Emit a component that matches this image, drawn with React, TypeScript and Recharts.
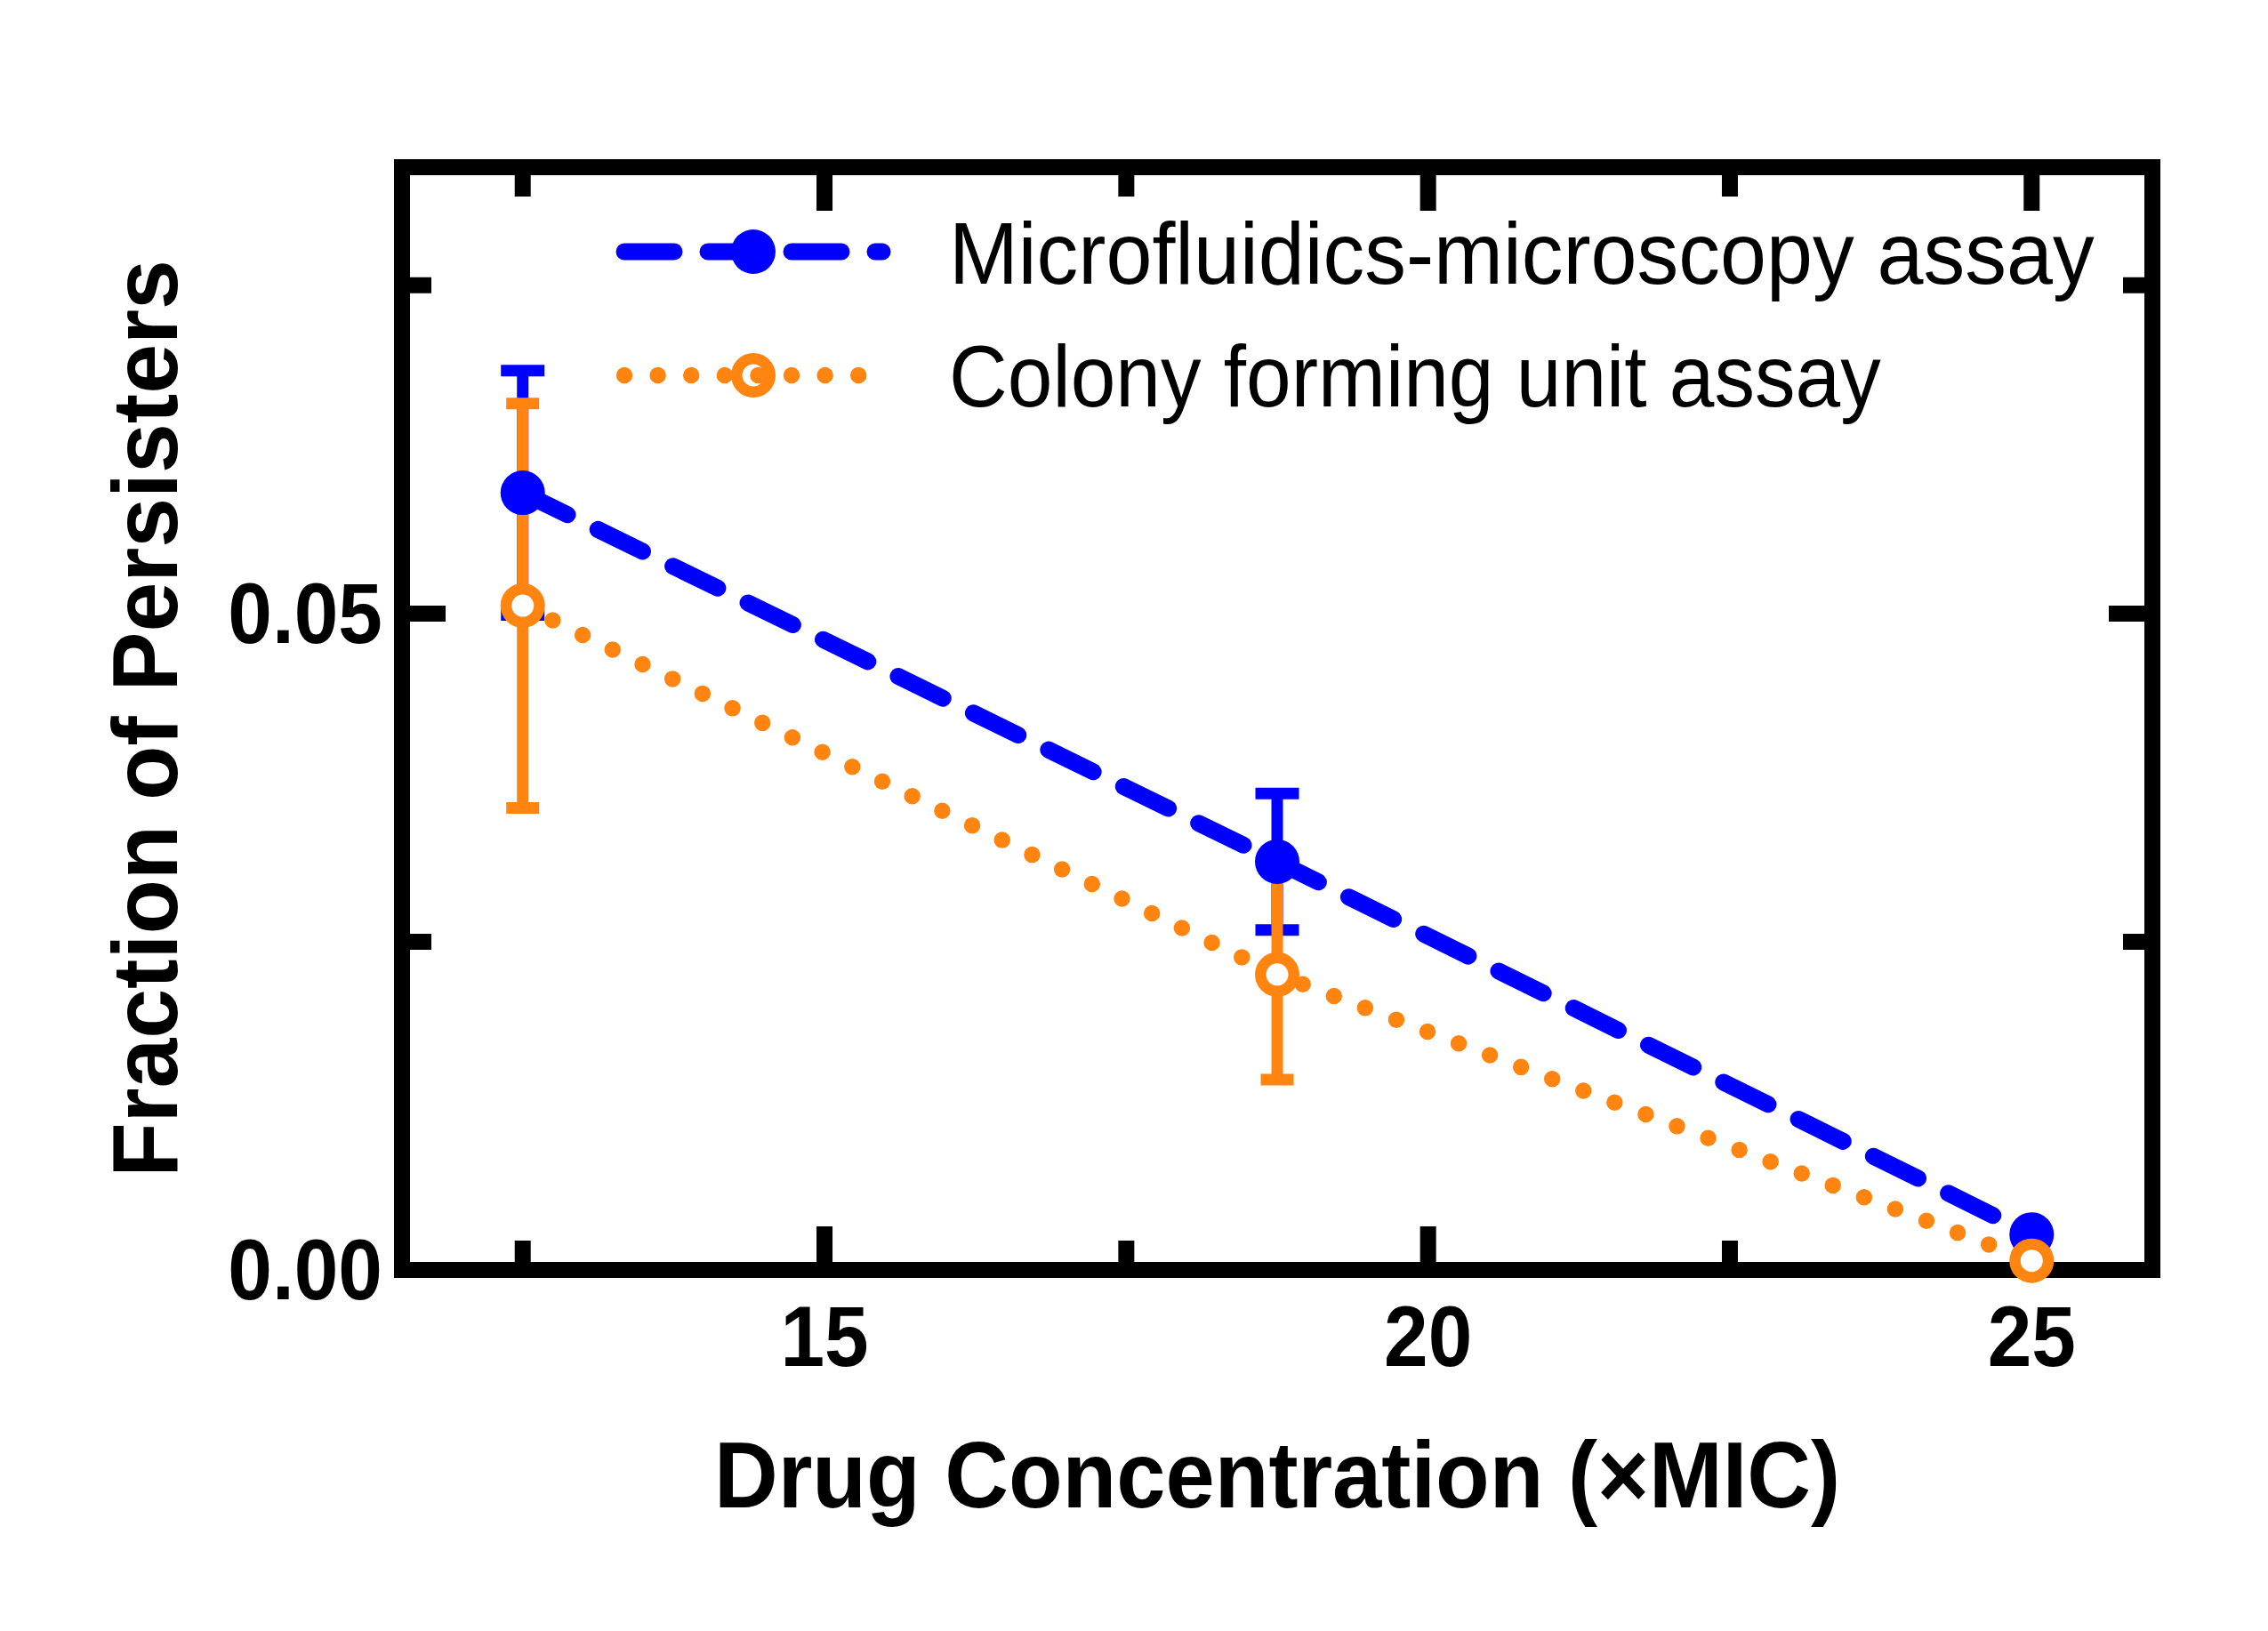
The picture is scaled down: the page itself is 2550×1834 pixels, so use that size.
import { LineChart, Line, XAxis, YAxis, ErrorBar, ReferenceArea, ReferenceLine, Legend } from 'recharts';

const concentrations = [12.5, 18.75, 25];
const microscopy = [0.0592, 0.0311, 0.0027];
const microscopyErr = [0.0093, 0.0052, 0];
const cfu = [0.0506, 0.0225, 0.0007];
const cfuErr = [0.0154, 0.008, 0];

const xTicks = [12.5, 15, 17.5, 20, 22.5, 25];
const xLabeled = [15, 20, 25];
const yTicks = [0, 0.025, 0.05, 0.075];
const yLabeled = [0, 0.05];

const seriesNames = ['Microfluidics-microscopy assay', 'Colony forming unit assay'];

const data = concentrations.map((c, i) => ({
  conc: c,
  micro: microscopy[i],
  microErr: microscopyErr[i],
  cfu: cfu[i],
  cfuErr: cfuErr[i],
}));

const BLUE = '#0000ff';
const ORANGE = '#ff8410';
const FONT = '"Liberation Sans", Arial, sans-serif';

const W = 2550;
const H = 1834;
// axis boxes are 1px, so plot area = 452..2420 x 188..1428
const margin = { top: 188, right: 130, bottom: 405, left: 451 };
const plotTop = margin.top;
const plotBottom = H - margin.bottom - 1;
const plotLeft = margin.left + 1;
const plotRight = W - margin.right;

// inward tick marks on all four sides, drawn under the series
function xTickMarks(major: boolean) {
  const len = major ? 49 : 33;
  return (p: any) => (
    <g>
      <line x1={p.x1} x2={p.x1} y1={plotBottom} y2={plotBottom - len} stroke="#000" strokeWidth={18} />
      <line x1={p.x1} x2={p.x1} y1={plotTop} y2={plotTop + len} stroke="#000" strokeWidth={18} />
    </g>
  );
}

function yTickMarks(major: boolean) {
  const len = major ? 49 : 33;
  return (p: any) => (
    <g>
      <line x1={plotLeft} x2={plotLeft + len} y1={p.y1} y2={p.y1} stroke="#000" strokeWidth={18} />
      <line x1={plotRight} x2={plotRight - len} y1={p.y1} y2={p.y1} stroke="#000" strokeWidth={18} />
    </g>
  );
}

function XTick(props: any) {
  const { x, payload } = props;
  const v = payload.value;
  if (!xLabeled.includes(v)) return null;
  return (
    <text
      transform={`translate(${x},${plotBottom + 108}) scale(0.92,1)`}
      textAnchor="middle"
      fontFamily={FONT}
      fontWeight="bold"
      fontSize={97}
      fill="#000"
    >
      {v}
    </text>
  );
}

function YTick(props: any) {
  const { y, payload } = props;
  const v = payload.value;
  if (!yLabeled.includes(v)) return null;
  return (
    <text
      transform={`translate(${plotLeft - 22},${y + 33}) scale(0.92,1)`}
      textAnchor="end"
      fontFamily={FONT}
      fontWeight="bold"
      fontSize={97}
      fill="#000"
    >
      {v.toFixed(2)}
    </text>
  );
}

function XTitle() {
  const cx = (plotLeft + plotRight) / 2;
  return (
    <text
      transform={`translate(${cx},1695) scale(0.937,1)`}
      textAnchor="middle"
      fontFamily={FONT}
      fontWeight="bold"
      fontSize={106}
      fill="#000"
    >
      Drug Concentration (×MIC)
    </text>
  );
}

function YTitle() {
  const cy = (plotTop + plotBottom) / 2;
  return (
    <text
      transform={`translate(199,${cy}) rotate(-90) scale(0.965,1)`}
      textAnchor="middle"
      fontFamily={FONT}
      fontWeight="bold"
      fontSize={104}
      fill="#000"
    >
      Fraction of Persisters
    </text>
  );
}

function BlueDot(props: any) {
  const { cx, cy } = props;
  if (cx == null || cy == null) return null;
  return <circle cx={cx} cy={cy} r={25} fill={BLUE} />;
}

function OrangeDot(props: any) {
  const { cx, cy } = props;
  if (cx == null || cy == null) return null;
  return <circle cx={cx} cy={cy} r={18.75} fill="#fff" stroke={ORANGE} strokeWidth={12.5} />;
}

function LegendBox() {
  return (
    <svg width={W} height={H} style={{ display: 'block', overflow: 'visible' }}>
      <line x1={702} x2={992} y1={283} y2={283} stroke={BLUE} strokeWidth={19} strokeDasharray="56 38" strokeLinecap="round" />
      <circle cx={847} cy={283} r={25} fill={BLUE} />
      <text transform="translate(1067,319) scale(0.944,1)" fontFamily={FONT} fontSize={99} fill="#000">
        {seriesNames[0]}
      </text>
      <circle cx={847} cy={422} r={18.75} fill="#fff" stroke={ORANGE} strokeWidth={12.5} />
      <line x1={702} x2={966} y1={422} y2={422} stroke={ORANGE} strokeWidth={18.5} strokeDasharray="0 37.6" strokeLinecap="round" />
      <text transform="translate(1067,457) scale(0.92,1)" fontFamily={FONT} fontSize={99} fill="#000">
        {seriesNames[1]}
      </text>
      <XTitle />
      <YTitle />
    </svg>
  );
}

export default function App() {
  return (
    <div style={{ position: 'absolute', left: 0, top: 0, background: '#fff' }}>
      <LineChart width={W} height={H} data={data} margin={margin}>
        <ReferenceArea x1={11.5} x2={26} y1={0} y2={0.084} fill="none" stroke="#000" strokeWidth={18} ifOverflow="visible" />
        {xTicks.map((t) => (
          <ReferenceLine key={`xt${t}`} x={t} stroke="none" ifOverflow="visible" shape={xTickMarks(xLabeled.includes(t))} />
        ))}
        {yTicks
          .filter((t) => t !== 0)
          .map((t) => (
            <ReferenceLine key={`yt${t}`} y={t} stroke="none" ifOverflow="visible" shape={yTickMarks(yLabeled.includes(t))} />
          ))}
        <XAxis
          type="number"
          dataKey="conc"
          domain={[11.5, 26]}
          ticks={xTicks}
          interval={0}
          height={1}
          tickSize={0}
          tickMargin={0}
          axisLine={false}
          tickLine={false}
          tick={XTick}
        />
        <YAxis
          type="number"
          domain={[0, 0.084]}
          ticks={yTicks}
          interval={0}
          width={1}
          tickSize={0}
          tickMargin={0}
          axisLine={false}
          tickLine={false}
          tick={YTick}
        />
        <Legend
          layout="vertical"
          align="center"
          verticalAlign="middle"
          content={() => <LegendBox />}
          wrapperStyle={{ left: 0, top: 0, width: W, height: H, pointerEvents: 'none' }}
        />
        <Line
          name={seriesNames[0]}
          dataKey="micro"
          stroke={BLUE}
          strokeWidth={19}
          strokeDasharray="56 38"
          strokeLinecap="round"
          dot={BlueDot}
          activeDot={false}
          isAnimationActive={false}
        >
          <ErrorBar dataKey="microErr" direction="y" width={24.5} strokeWidth={13} stroke={BLUE} isAnimationActive={false} />
        </Line>
        <Line
          name={seriesNames[1]}
          dataKey="cfu"
          stroke={ORANGE}
          strokeWidth={18.5}
          strokeDasharray="0 37.5"
          strokeLinecap="round"
          dot={OrangeDot}
          activeDot={false}
          isAnimationActive={false}
        >
          <ErrorBar dataKey="cfuErr" direction="y" width={18.5} strokeWidth={13} stroke={ORANGE} isAnimationActive={false} />
        </Line>
      </LineChart>
    </div>
  );
}
